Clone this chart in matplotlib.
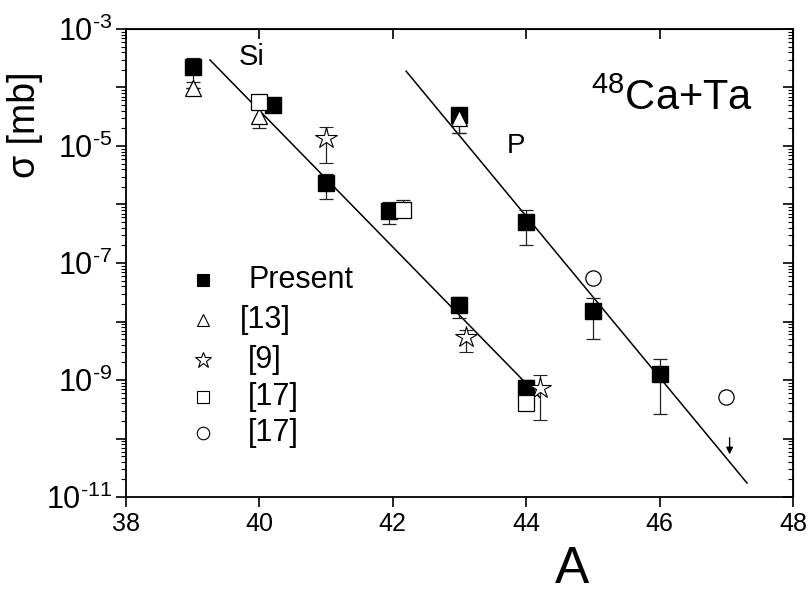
import numpy as np
import matplotlib.pyplot as plt
from matplotlib.ticker import LogLocator, FuncFormatter, NullFormatter, MultipleLocator

plt.rcParams['font.family'] = ['Liberation Sans', 'DejaVu Sans']
plt.rcParams['mathtext.fontset'] = 'custom'
plt.rcParams['mathtext.rm'] = 'Liberation Sans'
plt.rcParams['mathtext.default'] = 'regular'

# Present data (filled squares)
present_A = [39.0, 40.2, 41.0, 41.95, 43.0, 44.0, 43.0, 44.0, 45.0, 46.0]
present_sig = [2.24e-4, 5.0e-5, 2.34e-6, 7.8e-7, 1.9e-8, 7.2e-10, 3.4e-5, 5.0e-7, 1.5e-8, 1.26e-9]
present_hi = [3.2e-4, 5.0e-5, 3.3e-6, 1.1e-6, 2.6e-8, 1.0e-9, 4.0e-5, 8.1e-7, 2.5e-8, 2.3e-9]
present_lo = [1.23e-4, 5.0e-5, 1.23e-6, 4.7e-7, 1.15e-8, 4.2e-10, 1.66e-5, 2.0e-7, 5.0e-9, 2.6e-10]

# [13] open triangles
tri_A = [39.0, 40.0, 43.0]
tri_sig = [9.8e-5, 3.2e-5, 3.0e-5]
tri_hi = [9.8e-5, 7.4e-5, 3.0e-5]
tri_lo = [9.8e-5, 2.0e-5, 1.66e-5]

# [9] open stars
star_A = [41.0, 43.1, 44.2]
star_sig = [1.38e-5, 5.5e-9, 7.2e-10]
star_hi = [2.1e-5, 7.1e-9, 1.23e-9]
star_lo = [5.1e-6, 3.0e-9, 2.1e-10]

# [17] open squares
osq_A = [40.0, 42.15, 44.0]
osq_sig = [5.6e-5, 8.1e-7, 4.1e-10]
osq_hi = [7.2e-5, 1.2e-6, 4.1e-10]
osq_lo = [4.5e-5, 7.1e-7, 4.1e-10]

# [17] open circles
circ_A = [45.0, 47.0]
circ_sig = [5.5e-8, 5.1e-10]

# upper limit arrow at A=47
arrow_A = 47.05
arrow_from, arrow_to = 1.15e-10, 4.8e-11

# fitted systematics
fit_si_A = [39.26, 44.2]
fit_si_sig = [2.95e-4, 5.1e-10]
fit_p_A = [42.2, 47.31]
fit_p_sig = [1.9e-4, 1.74e-11]

fig = plt.figure(figsize=(8.09, 5.91), dpi=100)
ax = fig.add_axes([0.1557, 0.159, 0.8245, 0.792])
ax.set_yscale('log')


def errs(y, lo, hi):
    y = np.array(y)
    return [y - np.array(lo), np.array(hi) - y]


ax.plot(fit_si_A, fit_si_sig, color='black', lw=1.1, zorder=1)
ax.plot(fit_p_A, fit_p_sig, color='black', lw=1.1, zorder=1)

ebkw = dict(ecolor='#222222', elinewidth=0.9, capsize=5, capthick=0.9, ls='none')
ax.errorbar(present_A, present_sig, yerr=errs(present_sig, present_lo, present_hi),
            marker='s', ms=12, mfc='black', mec='black', zorder=3, **ebkw)
ax.errorbar(tri_A, tri_sig, yerr=errs(tri_sig, tri_lo, tri_hi),
            marker='^', ms=11, mfc='white', mec='black', mew=0.9, zorder=4, **ebkw)
ax.errorbar(star_A, star_sig, yerr=errs(star_sig, star_lo, star_hi),
            marker='*', ms=16, mfc='white', mec='black', mew=0.8, zorder=4, **ebkw)
ax.errorbar(osq_A, osq_sig, yerr=errs(osq_sig, osq_lo, osq_hi),
            marker='s', ms=12, mfc='white', mec='black', mew=0.9, zorder=4, **ebkw)
ax.plot(circ_A, circ_sig, ls='none', marker='o', ms=11, mfc='white', mec='black',
        mew=0.9, zorder=4)
ax.annotate('', xy=(arrow_A, arrow_to), xytext=(arrow_A, arrow_from),
            arrowprops=dict(arrowstyle='-|>', color='black', lw=1, mutation_scale=10))

ax.set_xlim(38, 48)
ax.set_ylim(1e-11, 1e-3)

ax.xaxis.set_major_locator(MultipleLocator(2))
ax.yaxis.set_major_locator(LogLocator(base=10, numticks=20))
ax.yaxis.set_minor_locator(LogLocator(base=10, subs=np.arange(2, 10), numticks=20))
ax.yaxis.set_minor_formatter(NullFormatter())


def ylab(v, pos):
    e = int(round(np.log10(v)))
    if e % 2 == 0:
        return ''
    return r'$10^{\text{-}%d}$' % abs(e)


ax.yaxis.set_major_formatter(FuncFormatter(ylab))
ax.tick_params(axis='both', which='major', direction='out', length=7, width=1.2)
ax.tick_params(axis='y', which='minor', direction='out', length=3.5, width=0.8)
ax.tick_params(axis='x', labelsize=18, pad=4)
ax.tick_params(axis='y', labelsize=22, pad=3)
for s in ax.spines.values():
    s.set_linewidth(1.3)

top = ax.secondary_xaxis('top')
top.xaxis.set_major_locator(MultipleLocator(2))
top.tick_params(direction='in', length=7, width=1.2, labeltop=False)
right = ax.secondary_yaxis('right')
right.yaxis.set_major_locator(LogLocator(base=10, numticks=20))
right.yaxis.set_minor_locator(LogLocator(base=10, subs=np.arange(2, 10), numticks=20))
right.tick_params(which='major', direction='in', length=7, width=1.2, labelright=False)
right.tick_params(which='minor', direction='in', length=3.5, width=0.8, labelright=False)

fig.text(572 / 809, 1 - 583 / 591, 'A', fontsize=37, ha='center', va='baseline')
ax.set_ylabel('σ [mb]', fontsize=27)
ax.yaxis.set_label_coords(-0.124, 0.795)

ax.text(39.89, 3.3e-4, 'Si', fontsize=21, ha='center', va='center')
ax.text(43.85, 1e-5, 'P', fontsize=20, ha='center', va='center')
ax.text(0.94, 0.827, r'$^{48}$Ca+Ta', transform=ax.transAxes, fontsize=30,
        ha='right', va='baseline')

# legend drawn by hand
leg_rows = [('s', 'black', 'Present', 0.184), ('^', 'white', '[13]', 0.171),
            ('*', 'white', '[9]', 0.183), ('s', 'white', '[17]', 0.183),
            ('o', 'white', '[17]', 0.183)]
leg_y = [0.464, 0.378, 0.293, 0.214, 0.137]
leg_ms = {'s': 9, '^': 9, '*': 12, 'o': 9}
for (m, fc, lab, tx), yy in zip(leg_rows, leg_y):
    ax.plot([0.115], [yy], transform=ax.transAxes, marker=m, ms=leg_ms[m], mfc=fc,
            mec='black', mew=0.8, ls='none')
    ax.text(tx, yy, lab, transform=ax.transAxes, fontsize=22, va='center', ha='left')

fig.savefig('out.png', dpi=100)
